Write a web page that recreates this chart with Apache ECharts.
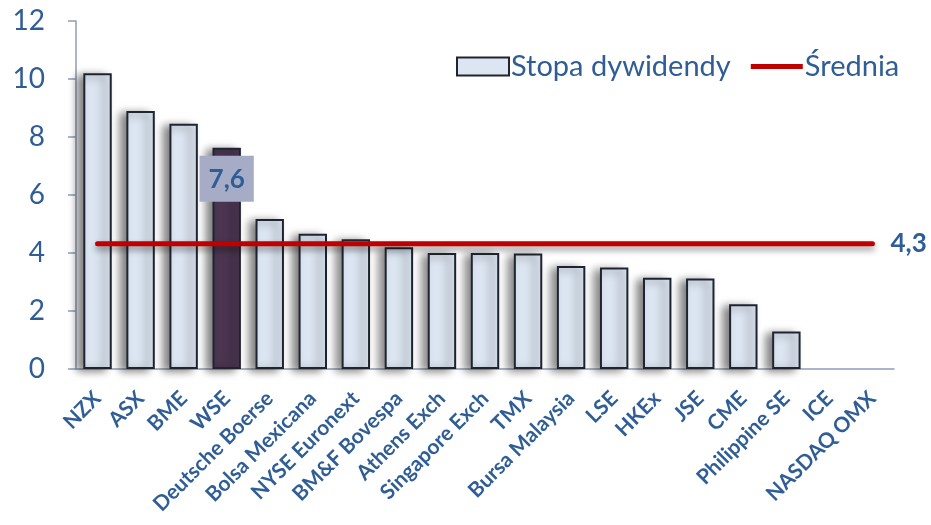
<!DOCTYPE html>
<html>
<head>
<meta charset="utf-8">
<script src="https://cdn.jsdelivr.net/npm/echarts@6/dist/echarts.min.js"></script>
<style>
  html, body { margin: 0; padding: 0; background: #fff; }
  #chart { width: 931px; height: 525px; }
</style>
</head>
<body>
<div id="chart"></div>
<script>
const categories = ["NZX", "ASX", "BME", "WSE", "Deutsche Boerse", "Bolsa Mexicana", "NYSE Euronext",
  "BM&F Bovespa", "Athens Exch", "Singapore Exch", "TMX", "Bursa Malaysia", "LSE", "HKEx", "JSE",
  "CME", "Philippine SE", "ICE", "NASDAQ OMX"];
// ICE and NASDAQ OMX have no bar in the source
const yieldValues = [10.2, 8.9, 8.46, 7.63, 5.17, 4.66, 4.47, 4.2, 4.0, 4.0, 3.98, 3.55, 3.5, 3.15, 3.12, 2.23, 1.29, null, null];
const avgValues = [4.32, 4.32, 4.32, 4.32, 4.32, 4.32, 4.32, 4.32, 4.32, 4.32, 4.32, 4.32, 4.32, 4.32, 4.32, 4.32, 4.32, 4.32, 4.32];
const highlight = "WSE";
const yTicks = [0, 2, 4, 6, 8, 10, 12];

const textColor = "#2F5D95";
const font = "Lato";

const chart = echarts.init(document.getElementById("chart"));

const barData = yieldValues.map((v, i) => {
  if (categories[i] !== highlight) return v;
  return {
    value: v,
    itemStyle: { color: "#4B3550" },
    label: {
      show: true,
      position: "insideTop",
      offset: [0, 3],
      formatter: "7,6",
      backgroundColor: "#A7ACC6",
      padding: [11, 9, 9, 9],
      color: textColor,
      fontFamily: font,
      fontWeight: "bold",
      fontSize: 26,
    },
  };
});

chart.setOption({
  animation: false,
  textStyle: { fontFamily: font },
  grid: { left: 76, right: 37, top: 21, bottom: 156 },
  legend: {
    left: 451,
    top: 47,
    itemWidth: 52,
    itemHeight: 18,
    itemGap: 20,
    textStyle: { color: textColor, fontSize: 29, fontFamily: font, padding: [0, 0, 0, -3] },
    data: [
      { name: "Stopa dywidendy", icon: "rect", itemStyle: { borderColor: "#1F2530", borderWidth: 2 } },
      { name: "Średnia", icon: "path://M0 0H52V5H0Z" },
    ],
  },
  xAxis: {
    type: "category",
    data: categories,
    axisLine: { lineStyle: { color: "#8E9DBA", width: 1.5 } },
    axisTick: { length: 6, lineStyle: { color: "#8E9DBA", width: 1.5 } },
    axisLabel: {
      interval: 0,
      rotate: 45,
      margin: 26,
      color: textColor,
      fontSize: 21,
      fontWeight: "bold",
      fontFamily: font,
    },
  },
  yAxis: {
    type: "value",
    min: 0,
    max: 12,
    interval: 2,
    splitLine: { show: false },
    axisLine: { show: true, lineStyle: { color: "#8E9DBA", width: 1.5 } },
    axisTick: { show: true, length: 8, lineStyle: { color: "#8E9DBA", width: 1.5 } },
    axisLabel: {
      color: textColor,
      fontSize: 28,
      margin: 31,
      fontFamily: font,
      formatter: (v) => (yTicks.includes(v) ? String(v) : ""),
    },
  },
  series: [
    {
      name: "Stopa dywidendy",
      type: "bar",
      data: barData,
      barCategoryGap: "34%",
      itemStyle: {
        color: "#DCE6F2",
        borderColor: "#1F2530",
        borderWidth: 2,
        shadowColor: "rgba(0,0,0,0.5)",
        shadowBlur: 9,
        shadowOffsetX: -6,
        shadowOffsetY: 2,
      },
    },
    {
      name: "Średnia",
      type: "line",
      data: avgValues,
      symbol: "none",
      z: 5,
      lineStyle: {
        color: "#C00000",
        width: 5,
        cap: "round",
        shadowColor: "rgba(0,0,0,0.4)",
        shadowBlur: 6,
        shadowOffsetY: 4,
      },
      itemStyle: { color: "#C00000" },
      endLabel: {
        show: true,
        formatter: "4,3",
        distance: 18,
        color: textColor,
        fontSize: 26,
        fontWeight: "bold",
        fontFamily: font,
      },
    },
  ],
});
</script>
</body>
</html>
